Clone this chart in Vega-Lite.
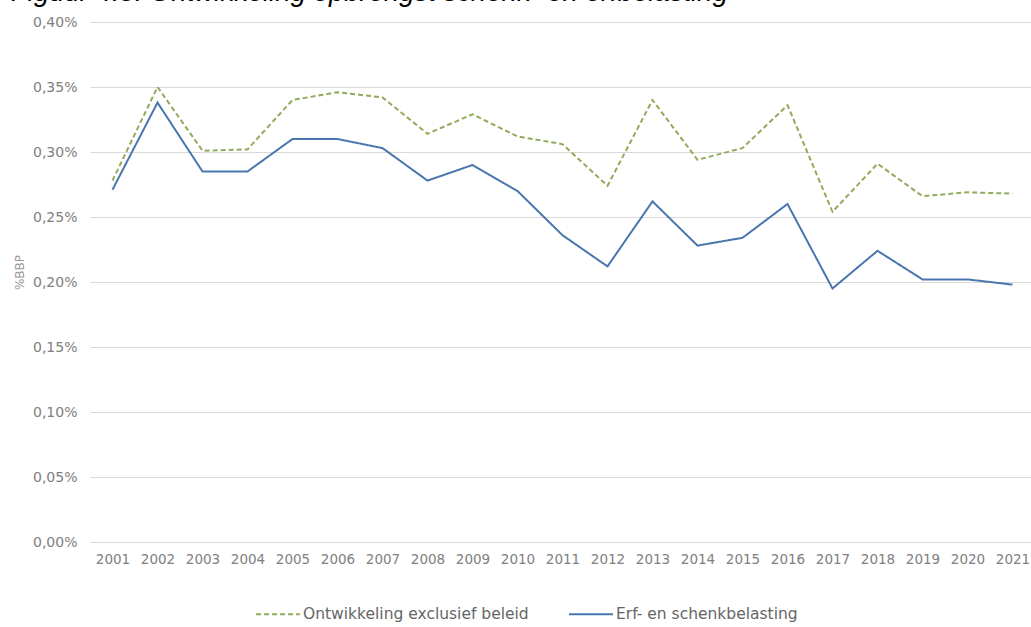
{
  "$schema": "https://vega.github.io/schema/vega-lite/v6.json",
  "autosize": {"type": "none"},
  "padding": {"left": 90, "top": 22, "right": 0, "bottom": 85},
  "width": 945,
  "height": 520,
  "background": "white",
  "title": {
    "text": "Figuur 4.5: Ontwikkeling opbrengst schenk- en erfbelasting",
    "anchor": "start",
    "frame": "group",
    "dx": -79,
    "dy": 19,
    "offset": 6,
    "fontSize": 27.5,
    "font": "Liberation Sans",
    "fontStyle": "italic",
    "fontWeight": "normal",
    "color": "#000000",
    "baseline": "alphabetic"
  },
  "data": {
    "values": [
      {"jaar": "2001", "reeks": "Ontwikkeling exclusief beleid", "waarde": 0.278},
      {"jaar": "2002", "reeks": "Ontwikkeling exclusief beleid", "waarde": 0.350},
      {"jaar": "2003", "reeks": "Ontwikkeling exclusief beleid", "waarde": 0.301},
      {"jaar": "2004", "reeks": "Ontwikkeling exclusief beleid", "waarde": 0.302},
      {"jaar": "2005", "reeks": "Ontwikkeling exclusief beleid", "waarde": 0.340},
      {"jaar": "2006", "reeks": "Ontwikkeling exclusief beleid", "waarde": 0.346},
      {"jaar": "2007", "reeks": "Ontwikkeling exclusief beleid", "waarde": 0.342},
      {"jaar": "2008", "reeks": "Ontwikkeling exclusief beleid", "waarde": 0.314},
      {"jaar": "2009", "reeks": "Ontwikkeling exclusief beleid", "waarde": 0.329},
      {"jaar": "2010", "reeks": "Ontwikkeling exclusief beleid", "waarde": 0.312},
      {"jaar": "2011", "reeks": "Ontwikkeling exclusief beleid", "waarde": 0.306},
      {"jaar": "2012", "reeks": "Ontwikkeling exclusief beleid", "waarde": 0.274},
      {"jaar": "2013", "reeks": "Ontwikkeling exclusief beleid", "waarde": 0.340},
      {"jaar": "2014", "reeks": "Ontwikkeling exclusief beleid", "waarde": 0.294},
      {"jaar": "2015", "reeks": "Ontwikkeling exclusief beleid", "waarde": 0.303},
      {"jaar": "2016", "reeks": "Ontwikkeling exclusief beleid", "waarde": 0.336},
      {"jaar": "2017", "reeks": "Ontwikkeling exclusief beleid", "waarde": 0.254},
      {"jaar": "2018", "reeks": "Ontwikkeling exclusief beleid", "waarde": 0.291},
      {"jaar": "2019", "reeks": "Ontwikkeling exclusief beleid", "waarde": 0.266},
      {"jaar": "2020", "reeks": "Ontwikkeling exclusief beleid", "waarde": 0.269},
      {"jaar": "2021", "reeks": "Ontwikkeling exclusief beleid", "waarde": 0.268},
      {"jaar": "2001", "reeks": "Erf- en schenkbelasting", "waarde": 0.271},
      {"jaar": "2002", "reeks": "Erf- en schenkbelasting", "waarde": 0.338},
      {"jaar": "2003", "reeks": "Erf- en schenkbelasting", "waarde": 0.285},
      {"jaar": "2004", "reeks": "Erf- en schenkbelasting", "waarde": 0.285},
      {"jaar": "2005", "reeks": "Erf- en schenkbelasting", "waarde": 0.310},
      {"jaar": "2006", "reeks": "Erf- en schenkbelasting", "waarde": 0.310},
      {"jaar": "2007", "reeks": "Erf- en schenkbelasting", "waarde": 0.303},
      {"jaar": "2008", "reeks": "Erf- en schenkbelasting", "waarde": 0.278},
      {"jaar": "2009", "reeks": "Erf- en schenkbelasting", "waarde": 0.290},
      {"jaar": "2010", "reeks": "Erf- en schenkbelasting", "waarde": 0.270},
      {"jaar": "2011", "reeks": "Erf- en schenkbelasting", "waarde": 0.236},
      {"jaar": "2012", "reeks": "Erf- en schenkbelasting", "waarde": 0.212},
      {"jaar": "2013", "reeks": "Erf- en schenkbelasting", "waarde": 0.262},
      {"jaar": "2014", "reeks": "Erf- en schenkbelasting", "waarde": 0.228},
      {"jaar": "2015", "reeks": "Erf- en schenkbelasting", "waarde": 0.234},
      {"jaar": "2016", "reeks": "Erf- en schenkbelasting", "waarde": 0.260},
      {"jaar": "2017", "reeks": "Erf- en schenkbelasting", "waarde": 0.195},
      {"jaar": "2018", "reeks": "Erf- en schenkbelasting", "waarde": 0.224},
      {"jaar": "2019", "reeks": "Erf- en schenkbelasting", "waarde": 0.202},
      {"jaar": "2020", "reeks": "Erf- en schenkbelasting", "waarde": 0.202},
      {"jaar": "2021", "reeks": "Erf- en schenkbelasting", "waarde": 0.198}
    ]
  },
  "mark": {"type": "line", "strokeWidth": 2},
  "encoding": {
    "x": {
      "field": "jaar",
      "type": "ordinal",
      "scale": {"type": "point", "padding": 0.5},
      "axis": {
        "title": null,
        "labelAngle": 0,
        "ticks": false,
        "domain": false,
        "labelPadding": 10,
        "labelFont": "DejaVu Sans",
        "labelFontSize": 13.5,
        "labelColor": "#808080"
      }
    },
    "y": {
      "field": "waarde",
      "type": "quantitative",
      "scale": {"domain": [0, 0.4], "nice": false},
      "axis": {
        "values": [0, 0.05, 0.1, 0.15, 0.2, 0.25, 0.3, 0.35, 0.4],
        "labelExpr": "replace(format(datum.value, '.2f'), '.', ',') + '%'",
        "title": "%BBP",
        "titleFont": "DejaVu Sans",
        "titleFontSize": 12,
        "titleFontWeight": "normal",
        "titleColor": "#999999",
        "titleX": -71,
        "titleY": 250,
        "titleAlign": "center",
        "titleBaseline": "middle",
        "titleAngle": -90,
        "ticks": false,
        "domain": false,
        "grid": true,
        "gridColor": "#d9d9d9",
        "gridWidth": 1,
        "labelPadding": 13,
        "labelFont": "DejaVu Sans",
        "labelFontSize": 14,
        "labelColor": "#808080"
      }
    },
    "color": {
      "field": "reeks",
      "type": "nominal",
      "scale": {
        "domain": ["Ontwikkeling exclusief beleid", "Erf- en schenkbelasting"],
        "range": ["#91AA5B", "#4A76AE"]
      },
      "legend": {
        "title": null,
        "orient": "none",
        "direction": "horizontal",
        "legendX": 165,
        "legendY": 569,
        "symbolType": "stroke",
        "symbolSize": 1936,
        "symbolStrokeWidth": 2,
        "labelOffset": 2,
        "columnPadding": 36,
        "labelFont": "DejaVu Sans",
        "labelFontSize": 15.5,
        "labelColor": "#666666",
        "labelLimit": 400
      }
    },
    "strokeDash": {
      "field": "reeks",
      "type": "nominal",
      "scale": {
        "domain": ["Ontwikkeling exclusief beleid", "Erf- en schenkbelasting"],
        "range": [[5, 3], [1, 0]]
      },
      "legend": {
        "title": null,
        "orient": "none",
        "direction": "horizontal",
        "legendX": 165,
        "legendY": 569,
        "symbolType": "stroke",
        "symbolSize": 1936,
        "symbolStrokeWidth": 2,
        "labelOffset": 2,
        "columnPadding": 36,
        "labelFont": "DejaVu Sans",
        "labelFontSize": 15.5,
        "labelColor": "#666666",
        "labelLimit": 400
      }
    }
  },
  "config": {
    "view": {"stroke": null}
  }
}
